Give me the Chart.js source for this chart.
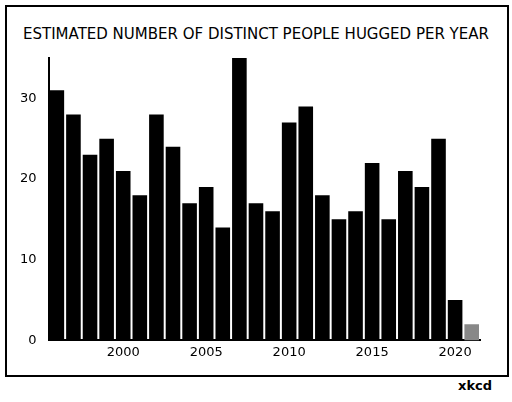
<!DOCTYPE html>
<html><head>
<script src="https://cdn.jsdelivr.net/npm/chart.js@4"></script>
<style>
body{margin:0;background:#fff;}
#box{position:absolute;left:5px;top:5px;width:500px;height:368px;border:2px solid #000;}
#t{position:absolute;left:0;top:25px;width:512px;text-align:center;font:15px "DejaVu Sans";white-space:nowrap;}
#x{position:absolute;left:458px;top:378px;font:bold 13px "DejaVu Sans";}
canvas{position:absolute;left:0;top:0;}
</style></head><body>
<div id="box"></div>
<div id="t">ESTIMATED NUMBER OF DISTINCT PEOPLE HUGGED PER YEAR</div>
<div id="x">xkcd</div>
<canvas id="c" width="512" height="402"></canvas>
<script>
const years=[1996,1997,1998,1999,2000,2001,2002,2003,2004,2005,2006,2007,2008,2009,2010,2011,2012,2013,2014,2015,2016,2017,2018,2019,2020,2021];
const hugs=[31,28,23,25,21,18,28,24,17,19,14,35,17,16,27,29,18,15,16,22,15,21,19,25,5,2];
const yTicks=[0,10,20,30];
const colors=years.map(y=>y===2021?'#888':'#000');
new Chart(document.getElementById('c'),{type:'bar',
data:{labels:years.map(String),datasets:[{data:hugs,backgroundColor:colors,barPercentage:0.88,categoryPercentage:1}]},
options:{responsive:false,animation:false,plugins:{legend:{display:false},tooltip:{enabled:false}},
layout:{padding:{left:16,right:32,top:58,bottom:38}},
scales:{
x:{grid:{display:false,drawTicks:false},border:{color:'#000',width:2},
ticks:{color:'#000',font:{size:13,family:'DejaVu Sans'},autoSkip:false,maxRotation:0,padding:4,
callback:(v,i)=>years[i]%5===0?String(years[i]):''}},
y:{min:0,max:35,grid:{display:false},border:{color:'#000',width:2},
afterBuildTicks:a=>{a.ticks=yTicks.map(v=>({value:v}));},
ticks:{color:'#000',font:{size:13,family:'DejaVu Sans'},padding:4}}
}}});
</script></body></html>
